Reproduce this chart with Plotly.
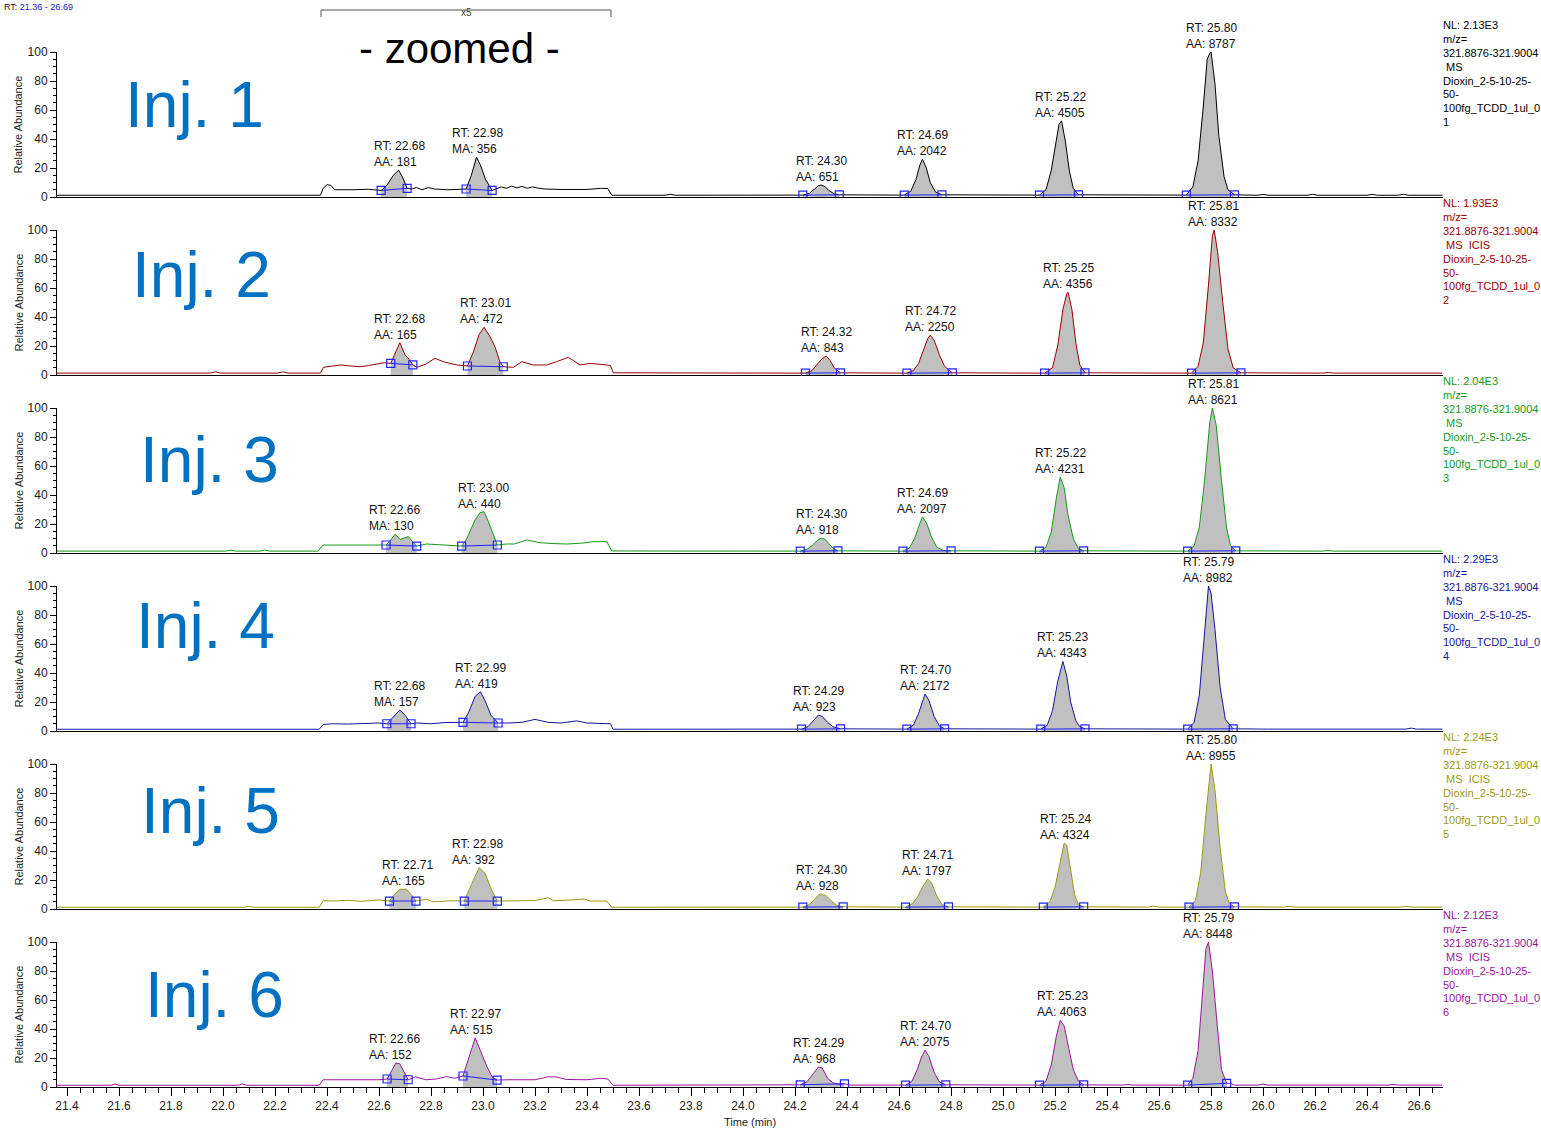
import plotly.graph_objects as go
from plotly.subplots import make_subplots

# ---------------- data ----------------
X_RANGE = [21.3615, 26.692]
ZOOM_START, ZOOM_END = 22.377, 23.492
X_TICK0, X_DTICK = 21.4, 0.2
Y_TICKS = [0, 20, 40, 60, 80, 100]

trace_colors = ["#000000", "#9a0000", "#159a15", "#15159a", "#9a9a10", "#9a159a"]
nl_values = ["2.13E3", "1.93E3", "2.04E3", "2.29E3", "2.24E3", "2.12E3"]
scan_types = ["MS", "MS  ICIS", "MS", "MS", "MS  ICIS", "MS  ICIS"]
file_suffix = ["1", "2", "3", "4", "5", "6"]
inj_names = ["Inj. 1", "Inj. 2", "Inj. 3", "Inj. 4", "Inj. 5", "Inj. 6"]

# (time [min], relative abundance [%])
inj1 = [(21.36,1.2),(22.375,1.2),(22.385,6.0),(22.40,8.5),(22.415,8.0),(22.43,5.0),(22.50,5.0),(22.56,5.3),
        (22.608,4.5),(22.63,8.0),(22.655,15.0),(22.675,18.5),(22.69,14.0),(22.708,6.0),(22.725,5.5),(22.745,6.5),
        (22.765,5.0),(22.79,6.5),(22.815,5.5),(22.86,5.0),(22.90,5.2),(22.935,5.5),(22.955,15.0),(22.975,27.5),
        (22.99,22.0),(23.01,12.0),(23.035,4.5),(23.05,5.5),(23.07,7.0),(23.09,6.0),(23.11,7.5),(23.13,6.3),
        (23.15,7.3),(23.17,6.0),(23.19,7.0),(23.215,6.0),(23.24,5.5),(23.30,5.2),(23.40,5.2),(23.455,6.0),
        (23.48,5.8),(23.495,1.2),(23.70,1.2),(23.72,1.9),(23.74,1.2),
        (24.23,1.3),(24.255,2.5),(24.275,5.5),(24.29,7.8),(24.30,8.3),(24.315,7.2),(24.33,4.5),(24.35,2.2),(24.37,1.5),
        (24.62,1.3),(24.645,4.0),(24.665,12.0),(24.68,22.0),(24.69,26.0),(24.705,20.0),(24.72,10.0),(24.74,3.5),(24.765,1.5),
        (25.14,1.3),(25.165,5.0),(25.185,18.0),(25.205,40.0),(25.215,50.0),(25.225,52.5),(25.24,38.0),(25.255,18.0),
        (25.27,6.0),(25.29,1.5),
        (25.705,1.3),(25.73,7.0),(25.75,25.0),(25.77,62.0),(25.785,95.0),(25.795,99.0),(25.80,100.0),(25.815,78.0),
        (25.83,42.0),(25.85,14.0),(25.865,5.0),(25.89,1.5),
        (25.98,1.2),(26.00,1.8),(26.02,1.2),(26.17,1.2),(26.19,1.9),(26.21,1.2),(26.40,1.2),(26.42,1.8),(26.44,1.2),
        (26.52,1.2),(26.54,1.9),(26.56,1.2),(26.69,1.2)]

inj2 = [(21.36,1.3),(21.95,1.3),(21.97,2.2),(21.99,1.3),(22.21,1.3),(22.23,2.2),(22.25,1.3),(22.375,1.3),
        (22.386,5.3),(22.42,6.0),(22.45,6.9),(22.49,6.2),(22.527,5.7),(22.56,6.5),(22.59,7.5),(22.62,8.5),
        (22.645,8.0),(22.665,16.0),(22.68,22.3),(22.70,14.0),(22.715,11.0),(22.73,7.0),(22.745,5.3),(22.78,7.5),
        (22.815,11.5),(22.85,9.0),(22.899,6.9),(22.94,6.2),(22.963,16.0),(22.985,28.0),(23.004,32.9),(23.025,27.0),
        (23.046,19.5),(23.065,9.2),(23.078,5.7),(23.117,5.3),(23.149,9.2),(23.194,6.9),(23.245,6.9),(23.283,9.2),
        (23.328,12.2),(23.373,6.9),(23.412,8.0),(23.476,6.9),(23.49,6.5),(23.501,1.5),
        (23.90,1.3),(23.92,1.8),(23.94,1.3),
        (24.24,1.3),(24.265,3.0),(24.285,7.0),(24.305,11.5),(24.32,13.0),(24.335,10.0),(24.35,5.0),(24.375,1.5),
        (24.63,1.3),(24.655,3.0),(24.675,8.0),(24.695,18.0),(24.71,25.0),(24.72,27.5),(24.735,24.0),(24.755,14.0),
        (24.775,6.0),(24.805,1.5),
        (25.16,1.3),(25.19,5.0),(25.21,20.0),(25.23,45.0),(25.245,56.0),(25.25,57.0),(25.265,45.0),(25.28,22.0),
        (25.295,7.0),(25.315,1.5),
        (25.725,1.3),(25.75,6.0),(25.77,22.0),(25.79,62.0),(25.805,96.0),(25.812,100.0),(25.825,85.0),(25.845,50.0),
        (25.865,18.0),(25.885,5.0),(25.915,1.5),
        (26.23,1.3),(26.25,1.8),(26.27,1.3),(26.69,1.3)]

inj3 = [(21.36,1.3),(22.01,1.3),(22.03,2.0),(22.05,1.3),(22.14,1.3),(22.16,2.0),(22.18,1.3),(22.365,1.3),
        (22.385,5.5),(22.45,5.5),(22.52,5.7),(22.60,5.5),(22.627,5.5),(22.645,9.0),(22.662,12.9),(22.681,9.4),
        (22.698,10.5),(22.713,11.3),(22.728,8.0),(22.745,4.8),(22.783,6.2),(22.835,5.5),(22.88,5.3),(22.918,4.8),
        (22.935,9.0),(22.95,14.7),(22.97,23.0),(22.988,27.8),(23.004,28.5),(23.02,22.0),(23.033,15.9),(23.045,9.0),
        (23.055,5.5),(23.09,6.2),(23.12,6.2),(23.168,9.0),(23.219,7.1),(23.27,6.5),(23.322,6.2),(23.38,6.8),
        (23.424,7.8),(23.476,7.8),(23.495,1.4),
        (24.22,1.3),(24.245,2.5),(24.265,5.0),(24.285,8.5),(24.30,10.3),(24.315,9.5),(24.33,6.5),(24.345,3.5),(24.365,1.5),
        (24.615,1.3),(24.64,3.5),(24.66,10.0),(24.675,18.0),(24.69,24.8),(24.705,21.0),(24.725,11.0),(24.745,4.0),
        (24.77,1.8),(24.80,1.5),
        (25.14,1.3),(25.165,4.0),(25.185,14.0),(25.205,38.0),(25.22,52.4),(25.235,45.0),(25.25,26.0),(25.27,10.0),
        (25.29,3.0),(25.31,1.5),
        (25.71,1.3),(25.735,5.0),(25.755,18.0),(25.775,50.0),(25.795,90.0),(25.805,100.0),(25.82,88.0),(25.84,50.0),
        (25.86,17.0),(25.875,5.0),(25.895,1.5),
        (26.23,1.3),(26.25,1.8),(26.27,1.3),(26.58,1.3),(26.60,1.8),(26.62,1.3),(26.69,1.3)]

inj4 = [(21.36,1.2),(22.37,1.2),(22.385,4.5),(22.42,5.0),(22.48,4.8),(22.55,5.2),(22.60,5.5),(22.63,5.0),
        (22.655,10.0),(22.68,14.5),(22.70,11.0),(22.723,5.0),(22.75,5.5),(22.80,5.0),(22.85,5.8),(22.923,6.0),
        (22.945,13.0),(22.97,24.0),(22.99,27.0),(23.01,20.0),(23.03,11.0),(23.058,5.5),(23.10,5.5),(23.15,6.0),
        (23.20,8.0),(23.25,6.0),(23.30,5.5),(23.36,7.0),(23.40,5.5),(23.46,5.5),(23.49,5.0),(23.50,1.2),
        (24.225,1.3),(24.25,3.0),(24.27,7.0),(24.29,11.0),(24.305,10.0),(24.325,6.0),(24.345,3.0),(24.375,1.5),
        (24.63,1.3),(24.655,4.0),(24.675,12.0),(24.69,21.0),(24.70,25.5),(24.715,21.0),(24.735,10.0),(24.755,3.5),
        (24.775,1.5),
        (25.145,1.3),(25.17,4.0),(25.19,14.0),(25.21,34.0),(25.23,48.0),(25.245,38.0),(25.26,20.0),(25.28,7.0),
        (25.295,3.0),(25.315,1.5),
        (25.71,1.3),(25.735,6.0),(25.755,25.0),(25.775,68.0),(25.79,100.0),(25.80,95.0),(25.815,70.0),(25.835,30.0),
        (25.855,8.0),(25.885,1.5),
        (25.98,1.3),(26.00,1.6),(26.02,1.3),(26.55,1.3),(26.57,2.0),(26.59,1.3),(26.69,1.3)]

inj5 = [(21.36,1.2),(22.08,1.2),(22.10,1.8),(22.12,1.2),(22.37,1.2),(22.385,5.7),(22.43,5.5),(22.48,6.0),
        (22.53,5.3),(22.60,6.2),(22.64,5.5),(22.66,10.0),(22.681,13.6),(22.706,13.6),(22.73,8.5),(22.742,5.5),
        (22.783,6.7),(22.809,5.0),(22.88,5.7),(22.928,5.5),(22.957,17.7),(22.985,28.5),(23.008,24.6),(23.033,13.1),
        (23.055,5.5),(23.10,5.7),(23.20,5.8),(23.251,7.8),(23.27,5.7),(23.34,6.2),(23.392,6.9),(23.41,5.5),
        (23.476,5.5),(23.495,1.2),
        (24.23,1.3),(24.255,3.0),(24.275,6.5),(24.29,9.5),(24.30,10.3),(24.32,9.0),(24.34,5.5),(24.36,2.5),(24.385,1.5),
        (24.625,1.3),(24.65,3.5),(24.67,8.0),(24.69,15.0),(24.71,20.7),(24.725,18.0),(24.745,9.0),(24.765,3.0),(24.79,1.5),
        (25.155,1.3),(25.18,5.0),(25.20,15.0),(25.22,34.0),(25.235,45.5),(25.245,44.0),(25.26,28.0),(25.275,10.0),
        (25.29,3.0),(25.31,1.5),
        (25.56,1.3),(25.58,2.0),(25.60,1.3),
        (25.715,1.3),(25.74,6.0),(25.76,25.0),(25.78,65.0),(25.795,95.0),(25.80,100.0),(25.815,82.0),(25.835,42.0),
        (25.855,12.0),(25.87,4.0),(25.89,1.5),
        (26.08,1.3),(26.10,1.9),(26.12,1.3),(26.53,1.3),(26.55,1.8),(26.57,1.3),(26.69,1.3)]

inj6 = [(21.36,1.2),(21.57,1.2),(21.585,2.0),(21.60,1.2),(22.06,1.2),(22.075,2.0),(22.09,1.2),(22.37,1.2),
        (22.385,5.0),(22.45,5.0),(22.52,4.8),(22.57,5.2),(22.60,5.0),(22.631,5.5),(22.65,12.0),(22.665,16.5),
        (22.68,16.0),(22.70,9.0),(22.712,5.0),(22.74,7.0),(22.78,5.0),(22.82,5.5),(22.86,7.2),(22.89,6.0),
        (22.923,7.6),(22.945,20.0),(22.97,33.8),(22.99,25.0),(23.015,14.0),(23.035,7.0),(23.054,4.8),(23.10,5.0),
        (23.20,5.0),(23.25,7.0),(23.28,7.0),(23.32,5.2),(23.40,5.0),(23.45,6.0),(23.48,5.5),(23.50,1.2),
        (24.22,1.5),(24.245,3.5),(24.27,9.0),(24.29,13.8),(24.305,13.0),(24.325,6.0),(24.345,3.0),(24.365,2.0),
        (24.39,2.2),(24.41,1.3),
        (24.625,1.3),(24.65,4.0),(24.67,12.0),(24.685,20.0),(24.70,25.5),(24.715,21.0),(24.735,10.0),(24.755,3.5),(24.78,1.5),
        (25.00,1.3),(25.02,1.8),(25.04,1.3),
        (25.14,1.3),(25.165,4.0),(25.185,15.0),(25.205,35.0),(25.22,46.0),(25.235,42.0),(25.25,28.0),(25.27,12.0),
        (25.29,4.0),(25.31,1.5),
        (25.46,1.3),(25.48,1.8),(25.50,1.3),
        (25.71,1.3),(25.73,6.0),(25.75,25.0),(25.765,60.0),(25.78,95.0),(25.79,100.0),(25.805,80.0),(25.825,40.0),
        (25.84,12.0),(25.86,2.5),(25.875,2.5),(25.89,1.3),
        (25.98,1.3),(26.00,2.0),(26.02,1.3),(26.48,1.3),(26.50,1.8),(26.52,1.3),(26.69,1.3)]

# peaks: (RT label, area type, area, integration start, integration end)
peaks1 = [("22.68","AA","181",22.608,22.708),("22.98","MA","356",22.935,23.035),("24.30","AA","651",24.23,24.37),
          ("24.69","AA","2042",24.62,24.765),("25.22","AA","4505",25.14,25.29),("25.80","AA","8787",25.705,25.89)]
peaks2 = [("22.68","AA","165",22.645,22.73),("23.01","AA","472",22.94,23.078),("24.32","AA","843",24.24,24.375),
          ("24.72","AA","2250",24.63,24.805),("25.25","AA","4356",25.16,25.315),("25.81","AA","8332",25.725,25.915)]
peaks3 = [("22.66","MA","130",22.627,22.745),("23.00","AA","440",22.918,23.055),("24.30","AA","918",24.22,24.365),
          ("24.69","AA","2097",24.615,24.80),("25.22","AA","4231",25.14,25.31),("25.81","AA","8621",25.71,25.895)]
peaks4 = [("22.68","MA","157",22.63,22.723),("22.99","AA","419",22.923,23.058),("24.29","AA","923",24.225,24.375),
          ("24.70","AA","2172",24.63,24.775),("25.23","AA","4343",25.145,25.315),("25.79","AA","8982",25.71,25.885)]
peaks5 = [("22.71","AA","165",22.64,22.742),("22.98","AA","392",22.928,23.055),("24.30","AA","928",24.23,24.385),
          ("24.71","AA","1797",24.625,24.79),("25.24","AA","4324",25.155,25.31),("25.80","AA","8955",25.715,25.89)]
peaks6 = [("22.66","AA","152",22.631,22.712),("22.97","AA","515",22.923,23.054),("24.29","AA","968",24.22,24.39),
          ("24.70","AA","2075",24.625,24.78),("25.23","AA","4063",25.14,25.31),("25.79","AA","8448",25.71,25.86)]

traces = [inj1, inj2, inj3, inj4, inj5, inj6]
peak_tables = [peaks1, peaks2, peaks3, peaks4, peaks5, peaks6]

# ---------------- layout geometry (pixels) ----------------
W, H = 1541, 1129
ML, MR, MT, MB = 57, 98, 52, 42
PW, PH = W - ML - MR, H - MT - MB
PANEL_H, GAP = 145, 33
inj_label_px = [(123, 104.5), (130, 275), (138, 460), (134, 626), (139, 811), (143, 995)]
INFO_LINE_H = 13.9

FONT = "Arial, Liberation Sans, sans-serif"
FILL = "#c0c0c0"
BLUE = "#2222ff"


def px_x(p):
    return (p - ML) / PW


def px_y(p):
    return (H - MB - p) / PH


fig = make_subplots(rows=6, cols=1, shared_xaxes=True, vertical_spacing=GAP / PH)

for i, (data, peaks, color) in enumerate(zip(traces, peak_tables, trace_colors)):
    r = i + 1
    xr = "x" if r == 1 else f"x{r}"
    yr = "y" if r == 1 else f"y{r}"
    t = [p[0] for p in data]
    v = [p[1] for p in data]
    # shaded peak areas
    for rt, kind, area, s, e in peaks:
        seg = [p for p in data if s - 1e-9 <= p[0] <= e + 1e-9]
        fig.add_trace(go.Scatter(x=[p[0] for p in seg], y=[p[1] for p in seg], mode="lines",
                                 fill="tozeroy", fillcolor=FILL, line=dict(width=0, color=FILL),
                                 hoverinfo="skip", showlegend=False), row=r, col=1)
    # chromatogram
    fig.add_trace(go.Scatter(x=t, y=v, mode="lines", line=dict(color=color, width=1),
                             showlegend=False, name=inj_names[i]), row=r, col=1)
    # integration baselines and labels
    for rt, kind, area, s, e in peaks:
        seg = [p for p in data if s - 1e-9 <= p[0] <= e + 1e-9]
        fig.add_trace(go.Scatter(x=[seg[0][0], seg[-1][0]], y=[seg[0][1], seg[-1][1]],
                                 mode="lines+markers", line=dict(color=BLUE, width=1),
                                 marker=dict(symbol="square-open", size=8, color=BLUE, line=dict(width=1.2)),
                                 showlegend=False, hoverinfo="skip"), row=r, col=1)
        apex = max(p[1] for p in seg)
        fig.add_annotation(x=float(rt), y=apex, xref=xr, yref=yr, text=f"RT: {rt}<br>{kind}: {area}",
                           showarrow=False, xanchor="center", yanchor="bottom", align="left", yshift=-1,
                           font=dict(family=FONT, size=12, color="#111"))

    panel_top = MT + i * (PANEL_H + GAP)
    # right-hand info text, one line at a time
    info_lines = [f"NL: {nl_values[i]}", "m/z=", "321.8876-321.9004",
                  "&nbsp;" + scan_types[i].replace(" ", "&nbsp;"),
                  "Dioxin_2-5-10-25-", "50-", "100fg_TCDD_1ul_0", file_suffix[i]]
    for k, line in enumerate(info_lines):
        fig.add_annotation(x=px_x(1441), y=px_y(panel_top - 27 + k * INFO_LINE_H), xref="paper", yref="paper",
                           text=line, showarrow=False, xanchor="left", yanchor="middle", align="left",
                           font=dict(family=FONT, size=11, color=color))
    # y-axis title
    fig.add_annotation(x=px_x(18), y=px_y(panel_top + PANEL_H / 2), xref="paper", yref="paper",
                       text="Relative Abundance", textangle=-90, showarrow=False,
                       xanchor="center", yanchor="middle",
                       font=dict(family=FONT, size=11, color="#222"))
    # Inj. label
    lx, ly = inj_label_px[i]
    fig.add_annotation(x=px_x(lx), y=px_y(ly), xref="paper", yref="paper", text=inj_names[i],
                       showarrow=False, xanchor="left", yanchor="middle",
                       font=dict(family=FONT, size=64, color="#0070c0"))

    fig.update_yaxes(row=r, col=1, range=[0, 100], tickvals=Y_TICKS, ticks="outside", ticklen=6,
                     tickcolor="black", showline=True, linecolor="black", linewidth=1,
                     showgrid=False, zeroline=False,
                     tickfont=dict(family=FONT, size=12, color="#222"),
                     minor=dict(dtick=5, tick0=0, ticks="outside", ticklen=3, tickcolor="black", showgrid=False))
    if r < 6:
        fig.update_xaxes(row=r, col=1, range=X_RANGE, showline=True, linecolor="black", linewidth=1,
                         ticks="", showticklabels=False, showgrid=False, zeroline=False)
    else:
        fig.update_xaxes(row=r, col=1, range=X_RANGE, showline=True, linecolor="black", linewidth=1,
                         ticks="outside", ticklen=8, tickcolor="black", tick0=X_TICK0, dtick=X_DTICK,
                         tickformat=".1f", showgrid=False, zeroline=False,
                         tickfont=dict(family=FONT, size=12, color="#222"),
                         minor=dict(dtick=0.05, tick0=X_TICK0, ticks="outside", ticklen=5,
                                    tickcolor="black", showgrid=False))

# x title
fig.add_annotation(x=px_x(750), y=px_y(1122), xref="paper", yref="paper", text="Time (min)",
                   showarrow=False, xanchor="center", yanchor="middle",
                   font=dict(family=FONT, size=11, color="#222"))

# zoom bracket
br_y, br_y2 = px_y(10), px_y(17)
for (x0, y0, x1, y1) in [(ZOOM_START, br_y, ZOOM_END, br_y), (ZOOM_START, br_y, ZOOM_START, br_y2),
                         (ZOOM_END, br_y, ZOOM_END, br_y2)]:
    fig.add_shape(type="line", xref="x", yref="paper", x0=x0, x1=x1, y0=y0, y1=y1,
                  line=dict(color="#555", width=1))
fig.add_annotation(x=(ZOOM_START + ZOOM_END) / 2, y=px_y(12), xref="x", yref="paper", text="x5",
                   showarrow=False, xanchor="center", yanchor="middle",
                   font=dict(family=FONT, size=10, color="#444"))
fig.add_annotation(x=px_x(459), y=px_y(48.5), xref="paper", yref="paper", text="- zoomed -",
                   showarrow=False, xanchor="center", yanchor="middle",
                   font=dict(family=FONT, size=42, color="black"))
# range header at the very top-left
fig.add_annotation(x=px_x(2), y=px_y(0), xref="paper", yref="paper",
                   text="RT: <span style='color:#2020c0'>21.36 - 26.69</span>",
                   showarrow=False, xanchor="left", yanchor="top",
                   font=dict(family=FONT, size=9, color="#222"))

fig.update_layout(width=W, height=H, margin=dict(l=ML, r=MR, t=MT, b=MB),
                  paper_bgcolor="white", plot_bgcolor="white", showlegend=False,
                  font=dict(family=FONT))

fig.write_html("out.html", config={"displayModeBar": False},
               post_script="document.body.style.margin='0px';document.body.style.overflow='hidden';")
